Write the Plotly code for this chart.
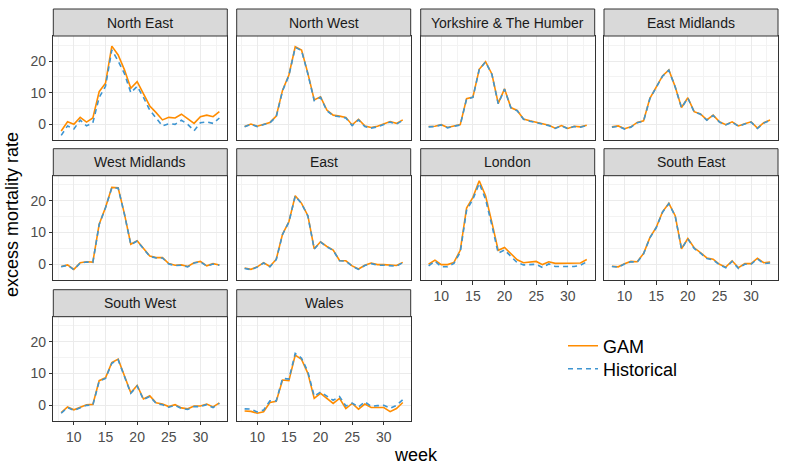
import plotly.graph_objects as go

weeks = list(range(8, 34))

regions = ["North East", "North West", "Yorkshire & The Humber", "East Midlands",
           "West Midlands", "East", "London", "South East",
           "South West", "Wales"]

# GAM estimates
gam_north_east = [-2.1, 0.8, 0.0, 2.2, 0.7, 2.0, 10.3, 13.0, 24.7, 21.9, 17.2, 11.4, 13.5,
                  9.8, 5.8, 3.7, 1.4, 2.2, 2.0, 3.2, 1.6, 0.3, 2.4, 2.9, 2.4, 4.0]
gam_north_west = [-0.7, 0.1, -0.6, -0.1, 0.6, 2.6, 10.8, 15.6, 24.5, 23.5, 16.1, 7.7, 8.7,
                  4.5, 2.9, 2.6, 2.2, -0.2, 1.6, -0.5, -1.0, -0.6, 0.1, 0.9, 0.3, 1.4]
gam_yorkshire = [-0.7, -0.6, -0.1, -1.0, -0.5, -0.1, 8.1, 8.6, 17.4, 19.8, 15.9, 6.6, 11.2,
                 5.3, 4.4, 1.7, 1.1, 0.7, 0.1, -0.3, -1.2, -0.4, -1.3, -0.6, -0.8, -0.3]
gam_east_midlands = [-0.8, -0.5, -1.4, -0.8, 0.6, 1.1, 8.2, 11.7, 15.3, 17.2, 11.9, 5.3, 8.4,
                     4.0, 3.3, 1.4, 2.9, 0.8, -0.1, 0.8, -0.5, 0.2, 0.8, -1.2, 0.5, 1.4]
gam_west_midlands = [-0.7, -0.2, -1.6, 0.5, 0.8, 0.7, 12.6, 17.9, 24.2, 24.1, 15.8, 6.3, 7.4,
                     4.9, 2.6, 2.1, 2.1, 0.2, -0.3, -0.2, -0.7, 0.5, 0.9, -0.5, 0.2, -0.2]
gam_east = [-1.2, -1.6, -0.8, 0.5, -0.7, 1.6, 9.5, 13.4, 21.6, 19.2, 15.3, 4.9, 7.1,
            5.6, 4.5, 1.2, 1.1, -0.5, -1.5, -0.3, 0.4, -0.1, -0.1, -0.2, -0.4, 0.6]
gam_london = [0.0, 1.3, -0.1, -0.1, 0.6, 4.4, 17.7, 21.1, 26.3, 21.6, 13.2, 4.4, 5.3,
              3.2, 1.4, 0.5, 0.7, 0.9, -0.1, 0.8, 0.3, 0.3, 0.3, 0.3, 0.4, 1.5]
gam_south_east = [-0.6, -0.8, 0.2, 0.9, 0.8, 3.4, 8.4, 11.6, 16.5, 19.2, 15.3, 4.9, 8.1,
                  5.2, 3.7, 2.0, 1.6, 0.0, -0.9, 1.1, -1.1, 0.2, 0.2, 1.9, 0.5, 0.7]
gam_south_west = [-2.4, -0.6, -1.5, -0.7, 0.1, 0.2, 7.7, 8.6, 13.4, 14.5, 8.9, 3.9, 6.2,
                  1.9, 2.9, 0.7, 0.3, -0.5, 0.1, -0.9, -1.2, -0.3, -0.3, 0.3, -0.6, 0.7]
gam_wales = [-1.9, -2.0, -2.6, -2.1, 0.8, 1.2, 7.9, 7.7, 15.8, 14.4, 10.0, 2.1, 3.7,
             2.0, 0.5, 2.1, -1.1, 0.5, -1.3, 0.3, -0.8, -0.8, -0.8, -2.1, -1.1, 0.8]

# Historical baseline estimates
hist_north_east = [-3.5, -0.5, -1.5, 1.3, -0.5, 0.5, 8.5, 12.0, 23.5, 20.0, 16.0, 10.0, 12.0,
                   8.5, 4.5, 2.0, -0.5, 0.2, 0.0, 1.3, 0.0, -2.0, 0.5, 0.8, 0.3, 2.0]
hist_north_west = [-0.8, 0.0, -0.7, -0.2, 0.5, 2.4, 10.6, 15.4, 24.3, 23.3, 15.9, 7.5, 8.5,
                   4.3, 2.7, 2.4, 2.0, -0.4, 1.4, -0.7, -1.2, -0.8, -0.1, 0.7, 0.1, 1.2]
hist_yorkshire = [-0.8, -0.7, -0.2, -1.1, -0.6, -0.2, 8.0, 8.5, 17.3, 19.7, 15.8, 6.5, 11.1,
                  5.2, 4.3, 1.6, 1.0, 0.6, 0.0, -0.4, -1.3, -0.5, -1.4, -0.7, -0.9, -0.4]
hist_east_midlands = [-0.9, -0.6, -1.5, -0.9, 0.5, 1.0, 8.1, 11.6, 15.2, 17.1, 11.8, 5.2, 8.3,
                      3.9, 3.2, 1.3, 2.8, 0.7, -0.2, 0.7, -0.6, 0.1, 0.7, -1.3, 0.4, 1.3]
hist_west_midlands = [-0.8, -0.3, -1.7, 0.4, 0.7, 0.6, 12.5, 17.8, 24.1, 24.0, 15.7, 6.2, 7.3,
                      4.8, 2.5, 2.0, 2.0, 0.1, -0.4, -0.3, -0.8, 0.4, 0.8, -0.6, 0.1, -0.3]
hist_east = [-1.3, -1.7, -0.9, 0.4, -0.8, 1.5, 9.4, 13.3, 21.5, 19.1, 15.2, 4.8, 7.0,
             5.5, 4.4, 1.1, 1.0, -0.6, -1.6, -0.4, 0.2, -0.3, -0.3, -0.4, -0.6, 0.5]
hist_london = [-0.5, 1.0, -0.8, -0.8, 0.3, 3.8, 17.0, 20.5, 25.5, 20.5, 12.3, 3.5, 4.5,
               2.5, 0.5, -0.2, -0.1, 0.0, -1.0, 0.1, -0.7, -0.7, -0.7, -0.7, -0.3, 0.8]
hist_south_east = [-0.7, -0.9, 0.1, 0.8, 0.7, 3.3, 8.3, 11.5, 16.4, 19.1, 15.2, 4.8, 8.0,
                   5.0, 3.5, 1.8, 1.4, -0.2, -1.1, 0.9, -1.3, 0.0, 0.0, 1.7, 0.2, 0.4]
hist_south_west = [-2.6, -0.8, -1.7, -0.9, -0.1, 0.0, 7.5, 8.4, 13.2, 14.3, 8.7, 3.7, 6.0,
                   1.7, 2.7, 0.5, 0.1, -0.7, -0.1, -1.1, -1.4, -0.5, -0.5, 0.1, -0.8, 0.5]
hist_wales = [-1.2, -1.3, -2.2, -1.6, 1.3, 1.3, 8.4, 8.2, 16.3, 14.8, 10.5, 2.8, 4.1,
              2.7, 1.5, 2.7, -0.3, 0.6, -0.6, 1.0, -0.4, -0.2, -0.1, -1.0, -0.1, 1.7]

gam = [gam_north_east, gam_north_west, gam_yorkshire, gam_east_midlands,
       gam_west_midlands, gam_east, gam_london, gam_south_east,
       gam_south_west, gam_wales]
hist = [hist_north_east, hist_north_west, hist_yorkshire, hist_east_midlands,
        hist_west_midlands, hist_east, hist_london, hist_south_east,
        hist_south_west, hist_wales]

W, H = 787, 472
ORANGE = "#FF8C00"
BLUE = "#3E95D1"
FONT = "Liberation Sans, Arial, sans-serif"

# panel geometry in pixels (ggplot facet_wrap, 4 columns)
col_x = [(53.3, 227.3), (236.7, 410.7), (420.7, 594.7), (604.0, 778.0)]
row_y = [(36.0, 140.0), (175.7, 280.0), (316.7, 420.7)]
strip_h = 27.0

fig = go.Figure()
shapes = []
annotations = []

for i, region in enumerate(regions):
    r, c = divmod(i, 4)
    n = i + 1
    xa = "x" if n == 1 else f"x{n}"
    ya = "y" if n == 1 else f"y{n}"
    x0, x1 = col_x[c]
    y0, y1 = row_y[r]

    fig.add_trace(go.Scatter(
        x=weeks, y=gam[i], mode="lines", name="GAM", legend="legend",
        showlegend=(i == 0), line=dict(color=ORANGE, width=1.6),
        xaxis=xa, yaxis=ya,
    ))
    fig.add_trace(go.Scatter(
        x=weeks, y=hist[i], mode="lines", name="Historical", legend="legend2",
        showlegend=(i == 0), line=dict(color=BLUE, width=1.6, dash="5px,4px"),
        xaxis=xa, yaxis=ya,
    ))

    # x tick labels only on the lowest panel of each column
    bottom = (r == 2) or (r == 1 and c >= 2)
    left = c == 0
    fig.layout[("xaxis" if n == 1 else f"xaxis{n}")] = dict(
        domain=[x0 / W, x1 / W], anchor=ya, range=[6.75, 34.25],
        tick0=0, dtick=5, showticklabels=bottom,
        ticks="outside" if bottom else "", ticklen=3.5, tickcolor="#333333",
        tickfont=dict(size=14, color="#4D4D4D"),
        showgrid=True, gridcolor="#EBEBEB", gridwidth=1.1, zeroline=False,
        minor=dict(tick0=2.5, dtick=5, showgrid=True, gridcolor="#F3F3F3", gridwidth=0.6),
        showline=True, mirror=True, linecolor="#333333", linewidth=1,
    )
    fig.layout[("yaxis" if n == 1 else f"yaxis{n}")] = dict(
        domain=[1 - y1 / H, 1 - y0 / H], anchor=xa, range=[-4.95, 27.9],
        tick0=0, dtick=10, showticklabels=left,
        ticks="outside" if left else "", ticklen=3.5, tickcolor="#333333",
        tickfont=dict(size=14, color="#4D4D4D"),
        showgrid=True, gridcolor="#EBEBEB", gridwidth=1.1, zeroline=False,
        minor=dict(tick0=5, dtick=10, showgrid=True, gridcolor="#F3F3F3", gridwidth=0.6),
        showline=True, mirror=True, linecolor="#333333", linewidth=1,
    )

    # facet strip
    shapes.append(dict(type="rect", xref="paper", yref="paper",
                       x0=x0 / W, x1=x1 / W, y0=1 - y0 / H, y1=1 - (y0 - strip_h) / H,
                       fillcolor="#D9D9D9", line=dict(color="#333333", width=1)))
    annotations.append(dict(text=region, xref="paper", yref="paper",
                            x=(x0 + x1) / 2 / W, y=1 - (y0 - strip_h / 2) / H,
                            showarrow=False, xanchor="center", yanchor="middle",
                            font=dict(size=14, color="#1A1A1A")))

annotations.append(dict(text="week", xref="paper", yref="paper",
                        x=(53.3 + 778) / 2 / W, y=1 - 455 / H, showarrow=False,
                        xanchor="center", yanchor="middle",
                        font=dict(size=18, color="black")))
annotations.append(dict(text="excess mortality rate", xref="paper", yref="paper",
                        x=12 / W, y=1 - 215 / H, showarrow=False, textangle=-90,
                        xanchor="center", yanchor="middle",
                        font=dict(size=18, color="black")))

legend_style = dict(xanchor="left", yanchor="middle", font=dict(size=18, color="black"),
                    itemwidth=30, bgcolor="rgba(0,0,0,0)", borderwidth=0)

fig.update_layout(
    width=W, height=H,
    margin=dict(l=0, r=0, t=0, b=0),
    paper_bgcolor="white", plot_bgcolor="white",
    font=dict(family=FONT),
    shapes=shapes, annotations=annotations,
    showlegend=True,
    legend=dict(x=563 / W, y=1 - 346 / H, **legend_style),
    legend2=dict(x=563 / W, y=1 - 369 / H, **legend_style),
)

fig.write_html("out.html", config={"displayModeBar": False},
               post_script="document.body.style.margin='0';")
